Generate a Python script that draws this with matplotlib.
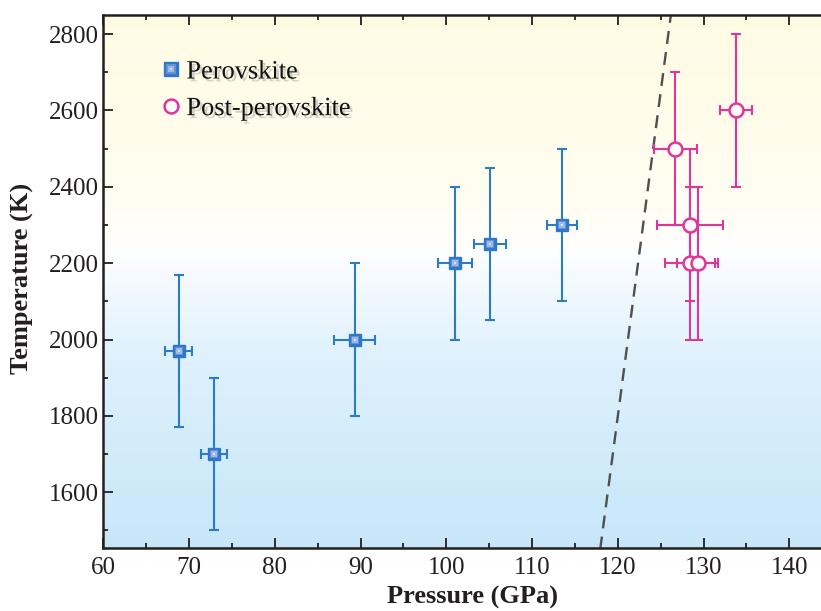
import matplotlib
matplotlib.use('Agg')
import matplotlib.pyplot as plt
import matplotlib.patheffects as pe
from matplotlib.colors import LinearSegmentedColormap
from matplotlib.lines import Line2D
import numpy as np

plt.rcParams['font.family'] = ['Liberation Serif', 'DejaVu Serif']

# perovskite points (pressure GPa, temperature K)
pv_p = [68.8, 72.9, 89.3, 101.0, 105.1, 113.5]
pv_t = [1970, 1700, 2000, 2200, 2250, 2300]
pv_perr = [1.6, 1.5, 2.4, 2.0, 1.85, 1.7]
pv_terr = [200, 200, 200, 200, 200, 200]

# post-perovskite points
ppv_p = [126.7, 133.8, 128.45, 128.45, 129.3]
ppv_t = [2500, 2600, 2300, 2200, 2200]
ppv_perr = [2.5, 1.9, 3.85, 2.9, 2.4]
ppv_terr = [200, 200, 200, 200, 200]

# phase boundary (dashed)
bnd_p = [117.95, 126.2]
bnd_t = [1450, 2852]

xlim = (60, 143.7)
ylim = (1453, 2851)

blue = '#2b7cc5'
pink = '#e0359a'

fig = plt.figure(figsize=(8.21, 6.11), dpi=100)
ax = fig.add_axes([0.1258, 0.1026, 0.8742, 0.8734])

# background gradient (cream top -> white -> light blue bottom)
bg = LinearSegmentedColormap.from_list('bg', [
    (0.00, (0.78, 0.905, 0.975)),
    (0.35, (0.87, 0.945, 0.99)),
    (0.52, (0.97, 0.985, 1.0)),
    (0.56, (1.0, 1.0, 1.0)),
    (0.64, (1.0, 0.995, 0.95)),
    (1.00, (1.0, 0.985, 0.89)),
])
grad = np.linspace(0, 1, 256).reshape(-1, 1)
ax.imshow(grad, cmap=bg, origin='lower', aspect='auto',
          extent=[xlim[0], xlim[1], ylim[0], ylim[1]], zorder=0)

ax.plot(bnd_p, bnd_t, color='#505050', lw=1.7, dashes=(5.5, 3.5), zorder=2)

ax.errorbar(pv_p, pv_t, xerr=pv_perr, yerr=pv_terr, fmt='none', ecolor=blue,
            elinewidth=1.5, capsize=3.8, capthick=1.5, zorder=3)
ax.plot(pv_p, pv_t, 's', ms=9.3, color='#2f78c8', mec='#2f78c8', zorder=4)
ax.plot(pv_p, pv_t, 's', ms=6.4, color='#6393d6', mew=0, zorder=5)
ax.plot(pv_p, pv_t, 's', ms=4.0, color='#9fb8e6', mew=0, zorder=6)
ax.plot(pv_p, pv_t, 's', ms=2.0, color='#d8e0f5', mew=0, zorder=7)

ax.errorbar(ppv_p, ppv_t, xerr=ppv_perr, yerr=ppv_terr, fmt='none', ecolor=pink,
            elinewidth=1.5, capsize=3.8, capthick=1.5, zorder=3)
ax.plot(ppv_p, ppv_t, 'o', ms=10, mfc='white', mec=pink, mew=1.8, zorder=4)

ax.set_xlim(*xlim)
ax.set_ylim(*ylim)
ax.set_xticks(np.arange(60, 141, 10))
ax.set_xticks(np.arange(65, 144, 5), minor=True)
ax.set_yticks(np.arange(1600, 2801, 200))
ax.set_yticks(np.arange(1500, 2851, 100), minor=True)

ax.tick_params(which='both', direction='in', top=True, right=False, width=1.3,
               color='#231f20', labelsize=18, labelcolor='#231f20')
ax.tick_params(which='major', length=7)
ax.tick_params(which='minor', length=3.6)
ax.tick_params(axis='x', pad=6)
ax.tick_params(axis='y', pad=3)

for s in ['left', 'bottom', 'top']:
    ax.spines[s].set_linewidth(1.8)
    ax.spines[s].set_color('#231f20')
ax.spines['right'].set_visible(False)

ax.set_xlabel('Pressure (GPa)', fontsize=19, fontweight='bold', color='#231f20')
ax.set_ylabel('Temperature (K)', fontsize=19, fontweight='bold', color='#231f20')
ax.xaxis.set_label_coords(0.515, -0.07)
ax.yaxis.set_label_coords(-0.097, 0.505)

h_pv = (Line2D([], [], marker='s', ls='none', ms=9.5, color='#2f78c8'),
        Line2D([], [], marker='s', ls='none', ms=6.5, color='#6393d6', mew=0),
        Line2D([], [], marker='s', ls='none', ms=4.0, color='#9fb8e6', mew=0),
        Line2D([], [], marker='s', ls='none', ms=2.0, color='#d8e0f5', mew=0))
h_ppv = Line2D([], [], marker='o', ls='none', ms=10, mfc='white', mec=pink, mew=1.8)
leg = ax.legend([h_pv, h_ppv], ['Perovskite', 'Post-perovskite'],
                loc='upper left', bbox_to_anchor=(0.079, 0.915), frameon=False,
                fontsize=19, handlelength=0.8, handletextpad=0.2,
                labelspacing=0.5, borderpad=0, borderaxespad=0)
for t in leg.get_texts():
    t.set_color('#111111')
    t.set_path_effects([pe.withSimplePatchShadow(offset=(2, -2), shadow_rgbFace='#999999', alpha=0.45)])

fig.savefig('out.png', dpi=100)
